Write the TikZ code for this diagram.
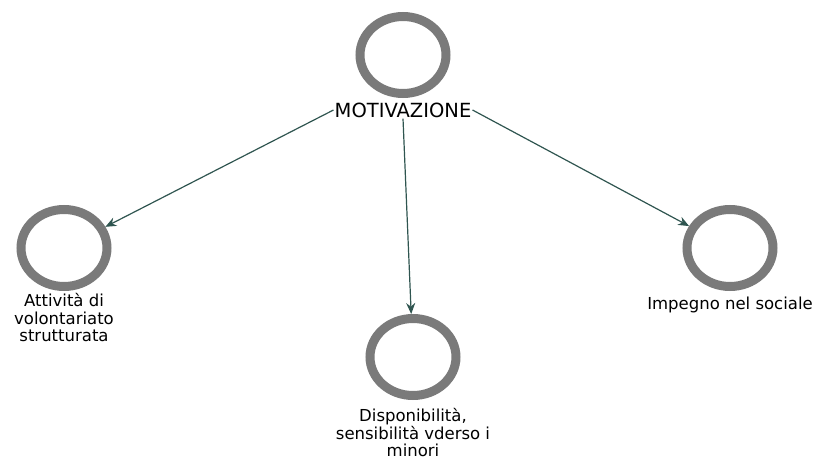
\documentclass[tikz,border=0pt]{standalone}
\usepackage{fontspec}
\setmainfont{DejaVu Sans}
\usetikzlibrary{shapes.geometric,arrows.meta}
\definecolor{ringgray}{HTML}{7A7A7A}
\definecolor{arrowcol}{HTML}{2F5550}
\begin{document}
\begin{tikzpicture}[x=1pt,y=-1pt,
  ring/.style={ellipse,draw=ringgray,line width=9pt,minimum width=86pt,minimum height=77pt,inner sep=0pt},
  lbl/.style={align=center,font=\fontsize{16.5}{17.5}\selectfont,inner sep=0pt},
  conn/.style={draw=arrowcol,line width=1.2pt,-{Stealth[length=11pt,width=9pt]}}]
\useasboundingbox (0,0) rectangle (823,463);
\node[ring] (c0) at (403,55) {};
\node[ring] (c1) at (64,248) {};
\node[ring] (c2) at (413,357) {};
\node[ring] (c3) at (730,248) {};
\node[font=\fontsize{19.5}{20}\selectfont,inner sep=1pt] (m) at (403,110) {MOTIVAZIONE};
\node[lbl] (l1) at (64,318) {Attività di\\volontariato\\strutturata};
\node[lbl] (l2) at (413,433) {Disponibilità,\\sensibilità vderso i\\minori};
\node[lbl] (l3) at (730,305) {Impegno nel sociale};
\draw[conn] (m.west) -- (c1);
\draw[conn] (m.south) -- (c2);
\draw[conn] (m.east) -- (c3);
\end{tikzpicture}
\end{document}
